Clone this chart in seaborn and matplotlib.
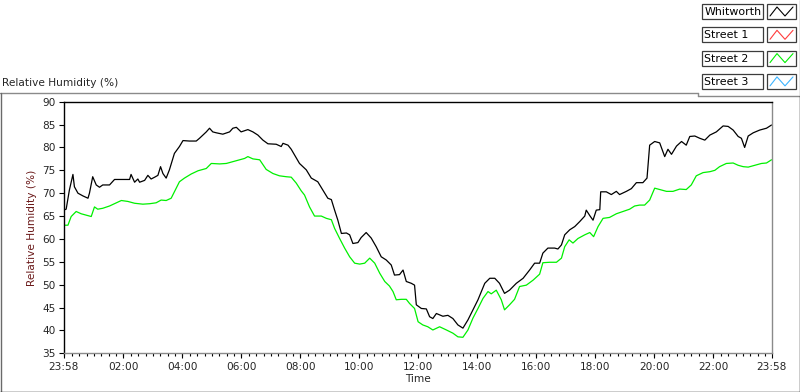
import matplotlib
matplotlib.use("Agg")
import matplotlib.pyplot as plt
from matplotlib.lines import Line2D
from matplotlib.patches import Rectangle
from matplotlib.ticker import FixedLocator
import pandas as pd
import seaborn as sns

# ---------------- data ----------------
series_names = ["Whitworth", "Street 1", "Street 2", "Street 3"]
series_colors = ["#000000", "#ff3c3c", "#00f000", "#3cb4ff"]

tick_labels = ["23:58", "02:00", "04:00", "06:00", "08:00", "10:00", "12:00",
               "14:00", "16:00", "18:00", "20:00", "22:00", "23:58"]
tick_hours = [0.0, 2.033, 4.033, 6.033, 8.033, 10.033, 12.033,
              14.033, 16.033, 18.033, 20.033, 22.033, 24.0]

# hours since 23:58, relative humidity (%)
whitworth_hours = [
    0.00, 0.09, 0.20, 0.32, 0.37, 0.49, 0.66, 0.83, 0.88, 0.99, 1.11, 1.22, 1.33,
    1.56, 1.73, 2.01, 2.24, 2.29, 2.41, 2.52, 2.58, 2.75, 2.86, 2.97, 3.09, 3.20,
    3.29, 3.37, 3.48, 3.59, 3.76, 3.93, 4.05, 4.27, 4.50, 4.61, 4.84, 4.95, 5.06,
    5.18, 5.40, 5.63, 5.74, 5.86, 6.02, 6.25, 6.42, 6.59, 6.76, 6.93, 7.21, 7.38,
    7.44, 7.61, 7.72, 7.83, 8.00, 8.23, 8.40, 8.62, 8.79, 8.96, 9.08, 9.19, 9.30,
    9.42, 9.59, 9.70, 9.81, 9.98, 10.09, 10.26, 10.43, 10.60, 10.77, 10.94, 11.11,
    11.22, 11.39, 11.51, 11.62, 11.79, 11.90, 11.96, 12.13, 12.30, 12.41, 12.52,
    12.64, 12.86, 13.03, 13.20, 13.37, 13.54, 13.71, 13.88, 14.05, 14.28, 14.45,
    14.62, 14.78, 14.95, 15.12, 15.35, 15.58, 15.80, 15.97, 16.14, 16.25, 16.42,
    16.65, 16.76, 16.88, 16.99, 17.16, 17.33, 17.50, 17.67, 17.72, 17.84, 17.95,
    18.06, 18.18, 18.21, 18.40, 18.57, 18.74, 18.85, 19.08, 19.25, 19.42, 19.64,
    19.78, 19.87, 20.04, 20.21, 20.38, 20.49, 20.61, 20.78, 20.95, 21.11, 21.23,
    21.40, 21.57, 21.74, 21.91, 22.13, 22.36, 22.53, 22.70, 22.87, 22.98, 23.09,
    23.21, 23.38, 23.60, 23.83, 24.00]
whitworth_rh = [
    66.3, 66.5, 70.7, 74.1, 71.4, 70.0, 69.4, 68.9, 70.0, 73.6, 71.8, 71.3, 71.8,
    71.8, 73.0, 73.0, 73.0, 74.1, 72.4, 73.1, 72.4, 72.8, 73.9, 73.1, 73.5, 73.9,
    75.8, 74.3, 73.3, 75.1, 78.7, 80.2, 81.5, 81.4, 81.4, 82.0, 83.4, 84.2, 83.4,
    83.2, 82.9, 83.4, 84.2, 84.4, 83.4, 83.9, 83.4, 82.7, 81.6, 80.8, 80.7, 80.2,
    80.9, 80.5, 79.6, 78.4, 76.5, 75.1, 73.3, 72.5, 70.7, 68.9, 68.6, 66.3, 64.1,
    61.2, 61.3, 60.9, 59.0, 59.2, 60.3, 61.4, 60.2, 58.3, 56.1, 55.4, 54.3,
    52.1, 52.2, 53.2, 50.7, 50.3, 49.9, 45.6, 44.8, 44.7, 43.0, 42.6,
    43.7, 43.1, 43.3, 42.6, 41.2, 40.5, 42.3, 44.5, 46.7, 50.3, 51.4,
    51.4, 50.3, 48.1, 48.8, 50.3, 51.4, 53.2, 54.7, 54.7, 56.9, 58.0,
    58.0, 57.8, 58.7, 60.9, 62.0, 62.7, 63.8, 65.0, 66.3, 65.1, 64.1,
    66.3, 66.4, 70.3, 70.3, 69.7, 70.4, 69.7, 70.4, 71.0, 72.3, 72.3,
    73.3, 80.5, 81.3, 81.0, 78.0, 79.6, 78.5, 80.3, 81.3, 80.5, 82.4,
    82.5, 82.0, 81.6, 82.7, 83.4, 84.7, 84.6, 83.8, 82.4, 82.0, 80.0,
    82.5, 83.2, 83.8, 84.2, 84.9]

street1_hours = []
street1_rh = []

street2_hours = [
    0.00, 0.15, 0.26, 0.43, 0.60, 0.71, 0.94, 1.05, 1.16, 1.33, 1.56, 1.79, 1.96,
    2.18, 2.41, 2.69, 2.92, 3.14, 3.31, 3.48, 3.65, 3.76, 3.93, 4.10, 4.33, 4.56,
    4.84, 5.01, 5.29, 5.52, 5.74, 5.97, 6.14, 6.25, 6.42, 6.65, 6.87, 7.10, 7.32,
    7.55, 7.72, 7.89, 8.06, 8.17, 8.34, 8.51, 8.74, 8.91, 9.08, 9.19, 9.36, 9.53,
    9.70, 9.87, 10.04, 10.21, 10.38, 10.55, 10.72, 10.89, 11.05, 11.17, 11.28,
    11.45, 11.62, 11.73, 11.90, 12.02, 12.18, 12.35, 12.52, 12.75, 12.98, 13.20,
    13.37, 13.54, 13.71, 13.88, 14.05, 14.22, 14.39, 14.50, 14.67, 14.84, 14.95,
    15.12, 15.29, 15.46, 15.69, 15.92, 16.14, 16.25, 16.48, 16.71, 16.88, 16.99,
    17.14, 17.27, 17.44, 17.67, 17.84, 17.97, 18.12, 18.29, 18.51, 18.74, 18.97,
    19.19, 19.36, 19.53, 19.70, 19.87, 20.04, 20.21, 20.44, 20.66, 20.89, 21.11,
    21.28, 21.45, 21.68, 21.91, 22.08, 22.24, 22.47, 22.70, 22.87, 23.04, 23.21,
    23.43, 23.66, 23.83, 24.00]
street2_rh = [
    63.0, 63.0, 64.9, 66.0, 65.5, 65.3, 64.9, 67.0, 66.5, 66.7, 67.2, 67.9, 68.4,
    68.2, 67.8, 67.6, 67.7, 67.9, 68.5, 68.4, 68.9, 70.3, 72.5, 73.3, 74.2, 74.9,
    75.4, 76.5, 76.4, 76.5, 76.9, 77.3, 77.6, 78.0, 77.5, 77.3, 75.2, 74.3, 73.8,
    73.6, 73.5, 72.2, 70.5, 69.6, 67.0, 65.0, 65.0, 64.5, 64.2, 62.3, 60.1, 58.0,
    56.1, 54.7, 54.5, 54.7, 55.8, 54.7, 52.5, 50.7, 49.7, 48.5, 46.7,
    46.8, 46.8, 45.9, 44.8, 41.9, 41.2, 40.8, 40.1, 40.8, 40.1, 39.4,
    38.6, 38.5, 40.1, 42.7, 44.8, 47.0, 48.5, 48.0, 48.8, 46.7, 44.5,
    45.6, 46.8, 49.6, 49.9, 51.0, 52.3, 54.8, 54.9, 54.9, 55.8, 58.3,
    59.8, 59.1, 60.1, 60.9, 61.4, 60.5, 62.7, 64.5, 64.7, 65.5, 66.0,
    66.5, 67.2, 67.4, 67.4, 68.5, 71.1, 70.8, 70.4, 70.4, 70.9, 70.8,
    71.8, 73.8, 74.5, 74.7, 75.0, 75.8, 76.5, 76.6, 76.1, 75.8, 75.7,
    76.1, 76.5, 76.6, 77.3]

street3_hours = []
street3_rh = []

# ---------------- figure ----------------
sns.set_style("white")
plt.rcParams["font.family"] = ["DejaVu Sans"]
FS = 7.6

W, H = 800, 392
fig = plt.figure(figsize=(W / 100, H / 100), dpi=100)
fig.patch.set_facecolor("white")

def fx(px):
    return px / W

def fy(py):
    return 1 - py / H

ax_l, ax_r, ax_t, ax_b = 63.5, 771.5, 101.7, 353.3
ax = fig.add_axes([fx(ax_l), fy(ax_b), (ax_r - ax_l) / W, (ax_b - ax_t) / H])

data = [(whitworth_hours, whitworth_rh), (street1_hours, street1_rh),
        (street2_hours, street2_rh), (street3_hours, street3_rh)]
for (hrs, vals), name, col in zip(data, series_names, series_colors):
    if len(hrs) == 0:
        continue
    df = pd.DataFrame({"hours": hrs, "rh": vals})
    sns.lineplot(data=df, x="hours", y="rh", color=col, lw=0.9, ax=ax,
                 legend=False, estimator=None, sort=False)

ax.set_xlim(0, 24)
ax.set_ylim(35, 90)
ax.set_yticks(list(range(35, 91, 5)))
ax.set_xticks(tick_hours)
ax.set_xticklabels(tick_labels)
minor = [2 / 60 + 0.25 * k for k in range(96)]
ax.xaxis.set_minor_locator(FixedLocator(minor))

ax.tick_params(axis="y", which="major", direction="out", length=3.3, width=0.8,
               color="black", labelsize=FS, pad=2.2, left=True)
ax.tick_params(axis="x", which="major", direction="out", length=3.8, width=0.8,
               color="black", labelsize=FS, pad=2.5, bottom=True)
ax.tick_params(axis="x", which="minor", direction="out", length=2.2, width=0.8,
               color="black", bottom=True)

for side in ["left", "top"]:
    ax.spines[side].set_color("black")
    ax.spines[side].set_linewidth(1.0)
for side in ["right", "bottom"]:
    ax.spines[side].set_color("#8a8a8a")
    ax.spines[side].set_linewidth(1.0)

ax.set_xlabel("Time", fontsize=FS, labelpad=1.5)
ax.set_ylabel("Relative Humidity (%)", fontsize=FS, color="#6b1a1a", labelpad=4)

# graph caption
fig.text(fx(2), fy(83), "Relative Humidity (%)", fontsize=FS, ha="left", va="center")

# ---------------- frame lines ----------------
def fline(x0, y0, x1, y1, color, lw=1.0):
    fig.add_artist(Line2D([fx(x0), fx(x1)], [fy(y0), fy(y1)], color=color,
                          lw=lw, transform=fig.transFigure))

fline(0, 92.5, 697.5, 92.5, "#8a8a8a")
fline(697.5, 92.5, 697.5, 95.5, "#8a8a8a")
fline(697.5, 95.5, 800, 95.5, "#8a8a8a")
fline(799.5, 0, 799.5, 95.5, "#8a8a8a")
fline(799.5, 95.5, 799.5, 392, "#000000")
fline(0.5, 92.5, 0.5, 392, "#6a6a6a")
fline(0, 391.5, 800, 391.5, "#000000")

# ---------------- legend ----------------
for i, (name, col) in enumerate(zip(series_names, series_colors)):
    top = 4 + i * 23.3
    h = 15
    fig.add_artist(Rectangle((fx(702), fy(top + h)), 61 / W, h / H,
                             transform=fig.transFigure, facecolor="white",
                             edgecolor="#3c3c3c", lw=0.9))
    fig.text(fx(704.5), fy(top + h / 2 + 0.5), name, fontsize=FS + 0.3, ha="left",
             va="center", color="black")
    fig.add_artist(Rectangle((fx(767), fy(top + h)), 29 / W, h / H,
                             transform=fig.transFigure, facecolor="white",
                             edgecolor="#3c3c3c", lw=0.9))
    zx = [770, 777, 785, 793]
    zy = [top + 12, top + 3, top + 12, top + 3]
    fig.add_artist(Line2D([fx(v) for v in zx], [fy(v) for v in zy], color=col,
                          lw=0.8, transform=fig.transFigure))

fig.savefig("out.png", dpi=100, facecolor="white")
